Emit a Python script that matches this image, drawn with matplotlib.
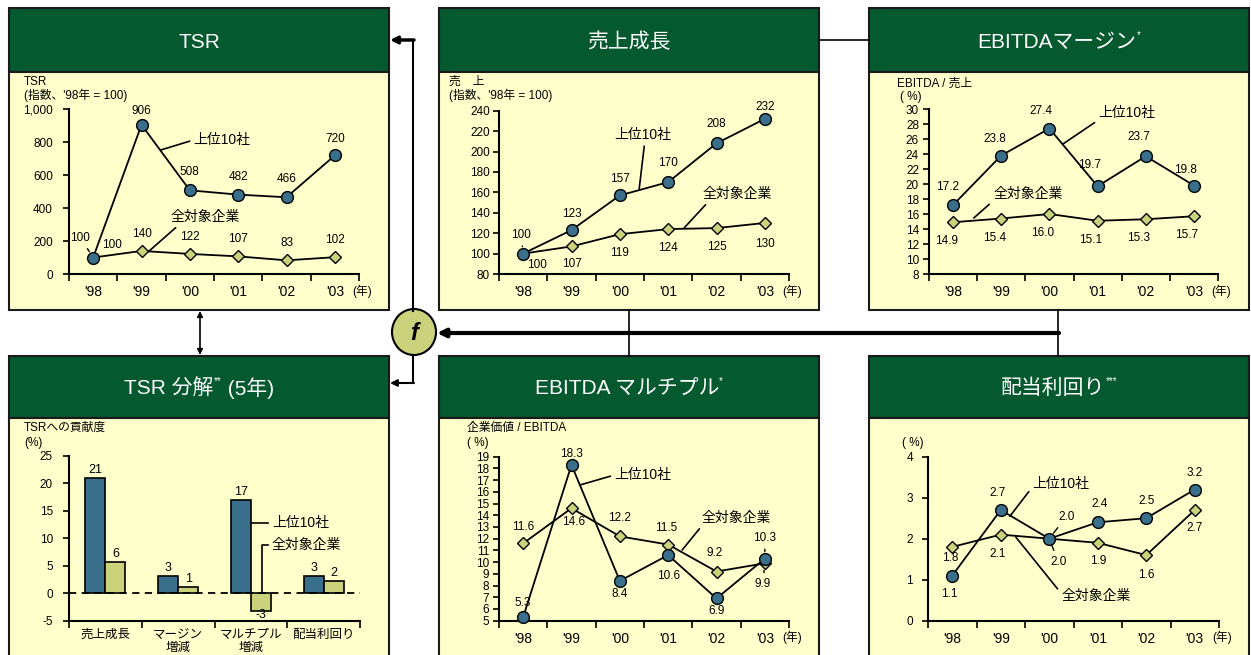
import numpy as np
import matplotlib.pyplot as plt
from matplotlib.patches import Rectangle, Ellipse

plt.rcParams['font.family'] = ['Liberation Sans', 'Noto Sans CJK JP', 'DejaVu Sans']
plt.rcParams['axes.unicode_minus'] = False

W, H = 1251, 655

## -------------------- data ------------------- ##
years = ["'98", "'99", "'00", "'01", "'02", "'03"]

tsr_top = [100, 906, 508, 482, 466, 720]
tsr_all = [100, 140, 122, 107, 83, 102]
sales_top = [100, 123, 157, 170, 208, 232]
sales_all = [100, 107, 119, 124, 125, 130]
margin_top = [17.2, 23.8, 27.4, 19.7, 23.7, 19.8]
margin_all = [14.9, 15.4, 16.0, 15.1, 15.3, 15.7]
multiple_top = [5.3, 18.3, 8.4, 10.6, 6.9, 10.3]
multiple_all = [11.6, 14.6, 12.2, 11.5, 9.2, 9.9]
yield_top = [1.1, 2.7, 2.0, 2.4, 2.5, 3.2]
yield_all = [1.8, 2.1, 2.0, 1.9, 1.6, 2.7]

decomp_cats = ['売上成長', 'マージン\n増減', 'マルチプル\n増減', '配当利回り']
decomp_top = [21.0, 3.1, 17.0, 3.1]
decomp_all = [5.7, 1.2, -3.3, 2.3]

TOP = '上位10社'
ALL = '全対象企業'

GREEN = '#04592f'
PANEL = '#ffffcc'
BLUE = '#3a6f8c'
LIME = '#cbd27c'

fig = plt.figure(figsize=(W / 100, H / 100), dpi=100)
bg = fig.add_axes([0, 0, 1, 1])
bg.set_xlim(0, W)
bg.set_ylim(H, 0)
bg.axis('off')

## -------------------- panels / layout ------------------- ##
lefts = [9, 439, 869]
for x in lefts:
    bg.add_patch(Rectangle((x, 8), 380, 64, fc=GREEN, ec='#1a1a1a', lw=1.5))
    bg.add_patch(Rectangle((x, 72), 380, 238, fc=PANEL, ec='#1a1a1a', lw=1.5))
    bg.add_patch(Rectangle((x, 356), 380, 62, fc=GREEN, ec='#1a1a1a', lw=1.5))
    bg.add_patch(Rectangle((x, 418), 380, 250, fc=PANEL, ec='#1a1a1a', lw=1.5))

renderer = fig.canvas.get_renderer()


def title(cx, cy, parts):
    objs, total = [], 0
    for s, fs, dy in parts:
        t = bg.text(0, cy + dy, s, color='white', fontsize=fs, ha='left', va='center')
        w = t.get_window_extent(renderer=renderer).width
        objs.append((t, w))
        total += w
    x = cx - total / 2
    for t, w in objs:
        t.set_x(x)
        x += w


title(199, 42, [('TSR', 15, 0)])
title(629, 42, [('売上成長', 15, 0)])
title(1059, 42, [('EBITDAマージン', 15, 0), ('*', 7, -7)])
title(199, 388, [('TSR 分解', 15, 0), ('**', 7, -7), (' (5年)', 15, 0)])
title(629, 388, [('EBITDA マルチプル', 15, 0), ('*', 7, -7)])
title(1059, 388, [('配当利回り', 15, 0), ('***', 7, -7)])

# connectors
bg.plot([413, 413], [311, 40], color='k', lw=1.5)
bg.annotate('', xy=(390, 40), xytext=(414, 40),
            arrowprops=dict(arrowstyle='-|>', color='k', lw=2.5, mutation_scale=10, shrinkA=0, shrinkB=0))
bg.plot([413, 413], [355, 383], color='k', lw=1.5)
bg.annotate('', xy=(390, 383), xytext=(414, 383),
            arrowprops=dict(arrowstyle='-|>', color='k', lw=1.5, mutation_scale=10, shrinkA=0, shrinkB=0))
bg.annotate('', xy=(200, 311), xytext=(200, 355),
            arrowprops=dict(arrowstyle='<|-|>', color='k', lw=1.2, mutation_scale=8, shrinkA=0, shrinkB=0))
bg.plot([820, 869], [40, 40], color='k', lw=1.2)
bg.plot([629, 629], [310, 356], color='k', lw=1.2)
bg.plot([1058, 1058], [310, 356], color='k', lw=1.2)
bg.annotate('', xy=(437, 333), xytext=(1059, 333),
            arrowprops=dict(arrowstyle='-|>', color='k', lw=3, mutation_scale=12, shrinkA=0, shrinkB=0))
bg.add_patch(Ellipse((414, 332), 44, 46, fc=LIME, ec='k', lw=1.5))
bg.text(414, 333, 'f', fontsize=17, fontweight='bold', style='italic', ha='center', va='center')

# axis captions
caps = [(24, 82, 'TSR'), (24, 95, "(指数、'98年 = 100)"),
        (449, 82, '売　上'), (449, 95, "(指数、'98年 = 100)"),
        (897, 84, 'EBITDA / 売上'), (900, 97, '( %)'),
        (24, 428, 'TSRへの貢献度'), (24, 443, '(%)'),
        (467, 428, '企業価値 / EBITDA'), (467, 443, '( %)'),
        (902, 443, '( %)')]
for x, y, s in caps:
    bg.text(x, y, s, fontsize=8.5, ha='left', va='center')


## -------------------- chart helpers ------------------- ##
def add_chart(x0, x1, y0, y1):
    ax = fig.add_axes([x0 / W, 1 - y1 / H, (x1 - x0) / W, (y1 - y0) / H])
    ax.patch.set_visible(False)
    for s in ['top', 'right']:
        ax.spines[s].set_visible(False)
    for s in ['left', 'bottom']:
        ax.spines[s].set_linewidth(1.5)
    ax.tick_params(labelsize=8.5, width=1.2)
    return ax


def setup_lines(ax, ylim, yticks, ylabels, ypad):
    ax.set_xlim(-0.5, 5.5)
    ax.set_ylim(*ylim)
    ax.set_xticks(np.arange(-0.5, 6, 1))
    ax.set_xticklabels([])
    ax.set_xticks(range(6), minor=True)
    ax.set_xticklabels(years, minor=True)
    ax.tick_params(axis='x', which='major', direction='out', length=5)
    ax.tick_params(axis='x', which='minor', length=0, pad=8)
    ax.set_yticks(yticks)
    ax.set_yticklabels(ylabels)
    ax.tick_params(axis='y', direction='out', length=4, pad=ypad)
    ax.annotate('(年)', xy=(1, 0), xycoords='axes fraction', xytext=(3, -17),
                textcoords='offset pixels', ha='center', va='center', fontsize=8.5)


def draw_lines(ax, top, allv):
    x = np.arange(len(top))
    ax.plot(x, allv, '-', color='k', lw=1.3, marker='D', ms=6, mfc=LIME, mec='k', mew=1,
            zorder=3, clip_on=False)
    ax.plot(x, top, '-', color='k', lw=1.3, marker='o', ms=8.5, mfc=BLUE, mec='k', mew=1,
            zorder=4, clip_on=False)


def value_labels(ax, vals, offsets, fmt, leaders=()):
    for i, (v, (dx, dy)) in enumerate(zip(vals, offsets)):
        kw = {}
        if i in leaders:
            kw['arrowprops'] = dict(arrowstyle='-', color='k', lw=1, shrinkA=2, shrinkB=5)
        ax.annotate(fmt.format(v), xy=(i, v), xytext=(dx, dy), textcoords='offset pixels',
                    ha='center', va='center', fontsize=8.5, **kw)


def series_label(ax, text, xy, xytext, relpos):
    ax.annotate(text, xy=xy, xytext=xytext, ha='center', va='center', fontsize=10,
                arrowprops=dict(arrowstyle='-', color='k', lw=1.2, relpos=relpos,
                                shrinkA=1, shrinkB=0))


## -------------------- TSR ------------------- ##
ax = add_chart(69, 359, 109.3, 274)
setup_lines(ax, (0, 1000), range(0, 1001, 200), ['0', '200', '400', '600', '800', '1,000'], 7.5)
draw_lines(ax, tsr_top, tsr_all)
value_labels(ax, tsr_top, [(-13, 20), (0, 14), (0, 18), (0, 18), (0, 18), (0, 16)], '{:d}', leaders=(0,))
value_labels(ax, tsr_all, [(19, 13), (0, 17), (0, 17), (0, 17), (0, 17), (0, 17)], '{:d}')
series_label(ax, TOP, (1.40, 753), (2.67, 814), (0, 0.5))
series_label(ax, ALL, (1.16, 140), (2.31, 346), (0.14, 0))

## -------------------- sales ------------------- ##
ax = add_chart(499, 789, 110.7, 274)
setup_lines(ax, (80, 240), range(80, 241, 20), [str(v) for v in range(80, 241, 20)], 2.5)
draw_lines(ax, sales_top, sales_all)
value_labels(ax, sales_top, [(-2, 19), (0, 16), (0, 16), (0, 19), (0, 19), (0, 12)], '{:d}', leaders=(0,))
value_labels(ax, sales_all, [(14, -11), (0, -18), (0, -19), (0, -19), (0, -19), (0, -21)], '{:d}', leaders=(0,))
series_label(ax, TOP, (2.40, 163.3), (2.48, 216.2), (0.53, 0))
series_label(ax, ALL, (3.33, 125.1), (4.42, 158.4), (0.1, 0))

## -------------------- EBITDA margin ------------------- ##
ax = add_chart(929, 1218, 109, 274)
setup_lines(ax, (8, 30), range(8, 31, 2), [str(v) for v in range(8, 31, 2)], 3.2)
draw_lines(ax, margin_top, margin_all)
value_labels(ax, margin_top, [(-6, 18), (-6, 17), (-8, 18), (-8, 21), (-7, 19), (-8, 16)], '{:.1f}')
value_labels(ax, margin_all, [(-7, -19)] * 6, '{:.1f}')
series_label(ax, TOP, (2.28, 25.33), (3.61, 29.47), (0, 0))
series_label(ax, ALL, (0.43, 15.47), (1.55, 18.67), (0, 0))

## -------------------- TSR decomposition ------------------- ##
ax = add_chart(69, 360, 455.7, 620.7)
xc = np.arange(len(decomp_cats))
bw = 0.275
ax.bar(xc - bw / 2, decomp_top, bw, color=BLUE, ec='k', lw=1.2, zorder=3)
ax.bar(xc + bw / 2, decomp_all, bw, color=LIME, ec='k', lw=1.2, zorder=3)
ax.axhline(0, color='k', lw=1.3, ls=(0, (4, 3)), zorder=4)
ax.set_xlim(-0.5, 3.5)
ax.set_ylim(-5, 25)
ax.set_xticks(np.arange(-0.5, 4, 1))
ax.set_xticklabels([])
ax.set_xticks(xc, minor=True)
ax.set_xticklabels(decomp_cats, minor=True, fontsize=9, linespacing=1.05)
ax.tick_params(axis='x', which='major', direction='out', length=5)
ax.tick_params(axis='x', which='minor', length=0, pad=6)
ax.set_yticks(range(-5, 26, 5))
ax.tick_params(axis='y', direction='out', length=4, pad=7.5)
for xs, vals in [(xc - bw / 2, decomp_top), (xc + bw / 2, decomp_all)]:
    for x, v in zip(xs, vals):
        if v >= 0:
            ax.annotate(f'{v:.0f}', xy=(x, v), xytext=(0, 2), textcoords='offset pixels',
                        ha='center', va='bottom', fontsize=9)
        else:
            ax.annotate(f'{v:.0f}', xy=(x, v), xytext=(0, -4), textcoords='offset pixels',
                        ha='center', va='center', fontsize=9)
ax.plot([2.0, 2.24], [12.76, 12.76], color='k', lw=1.2)
ax.text(2.29, 12.76, TOP, fontsize=10, ha='left', va='center')
ax.plot([2.15, 2.15, 2.24], [0, 8.76, 8.76], color='k', lw=1.2, zorder=5)
ax.text(2.28, 8.76, ALL, fontsize=10, ha='left', va='center')

## -------------------- EV / EBITDA ------------------- ##
ax = add_chart(499, 789, 456.7, 620.7)
setup_lines(ax, (5, 19), range(5, 20), [str(v) for v in range(5, 20)], 3.2)
draw_lines(ax, multiple_top, multiple_all)
value_labels(ax, multiple_top, [(0, 14), (0, 11), (0, -13), (0, -21), (0, -13), (0, 21)], '{:.1f}', leaders=(5,))
value_labels(ax, multiple_all, [(0, 16), (2, -14), (0, 18), (-2, 17), (-2, 18), (-2, -21)], '{:.1f}', leaders=(5,))
series_label(ax, TOP, (1.18, 16.59), (2.48, 17.44), (0, 0.5))
series_label(ax, ALL, (3.29, 11.04), (4.40, 13.77), (0.02, 0))

## -------------------- dividend yield ------------------- ##
ax = add_chart(928, 1219, 456.7, 620.7)
setup_lines(ax, (0, 4), range(0, 5), [str(v) for v in range(0, 5)], 6.8)
draw_lines(ax, yield_top, yield_all)
value_labels(ax, yield_top, [(-3, -18), (-3, 17), (17, 22), (2, 18), (0, 17), (0, 16)], '{:.1f}', leaders=(2,))
value_labels(ax, yield_all, [(-2, -11), (-3, -19), (9, -23), (0, -18), (0, -20), (0, -18)], '{:.1f}', leaders=(2,))
series_label(ax, TOP, (1.19, 2.55), (2.24, 3.33), (0, 0.3))
series_label(ax, ALL, (1.31, 2.04), (2.96, 0.60), (0, 0.7))

fig.savefig('out.png', dpi=100)
